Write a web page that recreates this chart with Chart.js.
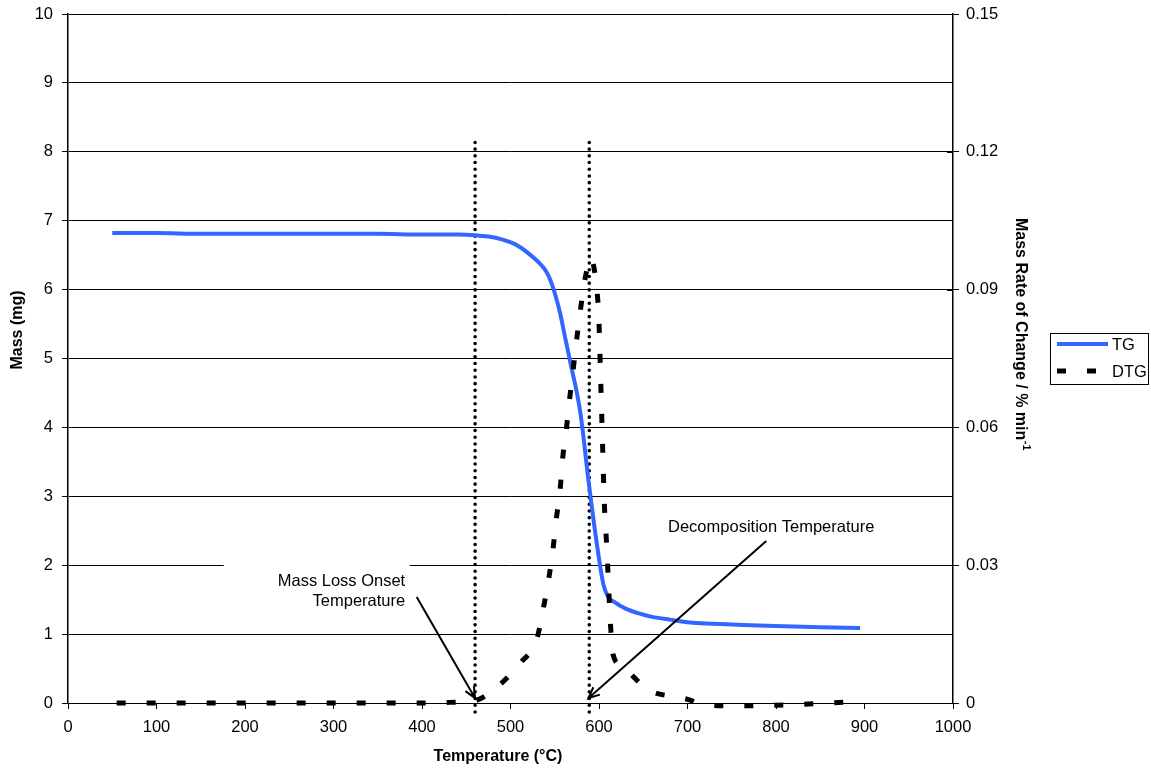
<!DOCTYPE html>
<html>
<head>
<meta charset="utf-8">
<script src="https://cdn.jsdelivr.net/npm/chart.js@4.4.1/dist/chart.umd.min.js"></script>
<style>
  html, body { margin: 0; padding: 0; background: #fff; }
  canvas { display: block; }
</style>
</head>
<body>
<canvas id="tga" width="1151" height="769"></canvas>
<script>
/* ─── DATA ────────────────────────────────────────────────── */
// TG curve: temperature (°C) vs mass (mg)
const tgTemp = [50, 100, 150, 200, 250, 300, 350, 400, 440, 460, 475, 490, 505, 520, 533, 540, 545, 550, 556, 561, 567, 579, 588, 598, 605, 610, 618, 630, 645, 660, 680, 710, 750, 790, 850, 895];
const tgMass = [6.82, 6.82, 6.81, 6.81, 6.81, 6.81, 6.81, 6.80, 6.80, 6.79, 6.77, 6.73, 6.66, 6.53, 6.38, 6.27, 6.14, 5.95, 5.66, 5.35, 4.98, 4.21, 3.24, 2.27, 1.72, 1.55, 1.46, 1.37, 1.30, 1.25, 1.21, 1.16, 1.14, 1.12, 1.10, 1.09];

// DTG curve: temperature (°C) vs mass rate of change (% min-1)
const dtgTemp = [55, 90, 125, 160, 195, 230, 265, 300, 335, 370, 405, 440, 460, 485, 511, 530, 537, 543, 548, 552, 556, 559, 563, 567, 571, 575, 579, 584, 588, 591, 595, 598, 600, 602, 604, 606, 608, 610, 613, 616, 625, 635, 648, 661, 680, 700, 720, 760, 800, 830, 860, 895];
const dtgRate = [0, 0, 0, 0, 0, 0, 0, 0, 0, 0, 0, 0.0002, 0.0005, 0.0035, 0.0087, 0.0141, 0.0205, 0.0268, 0.0335, 0.0404, 0.0464, 0.0534, 0.0594, 0.0665, 0.0729, 0.0795, 0.0855, 0.0921, 0.0955, 0.0969, 0.0940, 0.0893, 0.0828, 0.0696, 0.0566, 0.0435, 0.0366, 0.0290, 0.0170, 0.0105, 0.0082, 0.0065, 0.0040, 0.0024, 0.0015, 0.0008, -0.0004, -0.0006, -0.0005, -0.0003, 0, 0.0004];

// marker lines (°C) and their height (mg)
const markerTemps  = [460, 589];
const markerBottom = -0.13;
const markerTop    = 8.17;

// axis ranges / ticks
const xTicks  = { min: 0, max: 1000, step: 100 };
const yTicks  = { min: 0, max: 10, step: 1 };
const y2Ticks = { min: 0, max: 0.15, step: 0.03 };

// annotations, in data units (°C, mg)
const onsetLabel  = { lines: ['Mass Loss Onset', 'Temperature'], t: 381, m: [1.76, 1.47] };
const onsetBox    = { t0: 176, t1: 386, m0: 2.2, m1: 1.3 };
const onsetArrow  = { from: [394, 1.54], to: [460, 0.07] };
const decompLabel = { text: 'Decomposition Temperature', t: 678, m: 2.55 };
const decompArrow = { from: [789, 2.35], to: [588, 0.07] };

/* ─── HELPERS ─────────────────────────────────────────────── */
const FONT = '"Liberation Sans", Arial, sans-serif';
const pts = (xs, ys) => xs.map((x, i) => ({ x, y: ys[i] }));

function drawArrow(ctx, x1, y1, x2, y2) {
  const a = Math.atan2(y2 - y1, x2 - x1);
  const h = 12, spread = 0.42;
  ctx.beginPath();
  ctx.moveTo(x1, y1);
  ctx.lineTo(x2, y2);
  ctx.moveTo(x2 - h * Math.cos(a - spread), y2 - h * Math.sin(a - spread));
  ctx.lineTo(x2, y2);
  ctx.lineTo(x2 - h * Math.cos(a + spread), y2 - h * Math.sin(a + spread));
  ctx.stroke();
}

// fixed axis sizes, no extra label padding
const fixWidth  = w => s => { s.width = w;  s.paddingTop = 0; s.paddingBottom = 0; };
const fixHeight = h => s => { s.height = h; s.paddingLeft = 0; s.paddingRight = 0; };

/* ─── PLUGINS ─────────────────────────────────────────────── */
const annotations = {
  id: 'annotations',
  beforeDatasetsDraw(chart) {
    const { ctx, scales: { x, y } } = chart;
    // white label box hides the gridline behind the onset label
    ctx.save();
    ctx.fillStyle = '#fff';
    const bx = x.getPixelForValue(onsetBox.t0), by = y.getPixelForValue(onsetBox.m0);
    ctx.fillRect(bx, by, x.getPixelForValue(onsetBox.t1) - bx, y.getPixelForValue(onsetBox.m1) - by);
    ctx.restore();
  },
  afterDatasetsDraw(chart) {
    const { ctx, scales: { x, y } } = chart;
    ctx.save();
    ctx.fillStyle = '#000';
    ctx.font = `16.5px ${FONT}`;
    ctx.textBaseline = 'middle';
    ctx.textAlign = 'right';
    onsetLabel.lines.forEach((s, i) =>
      ctx.fillText(s, x.getPixelForValue(onsetLabel.t), y.getPixelForValue(onsetLabel.m[i])));
    ctx.textAlign = 'left';
    ctx.fillText(decompLabel.text, x.getPixelForValue(decompLabel.t), y.getPixelForValue(decompLabel.m));

    ctx.strokeStyle = '#000';
    ctx.lineWidth = 2;
    [onsetArrow, decompArrow].forEach(a =>
      drawArrow(ctx,
        x.getPixelForValue(a.from[0]), y.getPixelForValue(a.from[1]),
        x.getPixelForValue(a.to[0]),   y.getPixelForValue(a.to[1])));
    ctx.restore();
  },
  afterDraw(chart) {
    const { ctx, chartArea: ca, scales: { y2 } } = chart;
    ctx.save();

    // right axis ticks cross the axis line
    ctx.strokeStyle = '#000';
    ctx.lineWidth = 1;
    y2.ticks.forEach(t => {
      const py = Math.round(y2.getPixelForValue(t.value)) + 0.5;
      ctx.beginPath();
      ctx.moveTo(ca.right - 6, py);
      ctx.lineTo(ca.right, py);
      ctx.stroke();
    });

    // axis titles
    ctx.fillStyle = '#000';
    ctx.font = `bold 16px ${FONT}`;
    ctx.textAlign = 'center';
    ctx.textBaseline = 'middle';
    ctx.fillText('Temperature (°C)', 498, 757);

    ctx.save();
    ctx.translate(18, 330);
    ctx.rotate(-Math.PI / 2);
    ctx.fillText('Mass (mg)', 0, 0);
    ctx.restore();

    ctx.save();
    ctx.translate(1020, 334);
    ctx.rotate(Math.PI / 2);
    const main = 'Mass Rate of Change / % min', sup = '-1';
    ctx.font = `bold 16px ${FONT}`;
    const w1 = ctx.measureText(main).width;
    ctx.font = `bold 11px ${FONT}`;
    const w2 = ctx.measureText(sup).width;
    const x0 = -(w1 + w2) / 2;
    ctx.textAlign = 'left';
    ctx.font = `bold 16px ${FONT}`;
    ctx.fillText(main, x0, 0);
    ctx.font = `bold 11px ${FONT}`;
    ctx.fillText(sup, x0 + w1 + 0.5, -6);
    ctx.restore();

    // legend
    const ds = chart.data.datasets;
    ctx.strokeStyle = '#000';
    ctx.lineWidth = 1;
    ctx.strokeRect(1050.5, 333.5, 98, 51);
    [[ds[1], 344], [ds[0], 371]].forEach(([d, ly]) => {
      ctx.save();
      ctx.strokeStyle = d.borderColor;
      ctx.lineWidth = d.borderWidth;
      ctx.setLineDash(d.borderDash || []);
      ctx.beginPath();
      ctx.moveTo(1057, ly);
      ctx.lineTo(1108, ly);
      ctx.stroke();
      ctx.restore();
      ctx.font = `16.5px ${FONT}`;
      ctx.textAlign = 'left';
      ctx.fillText(d.label, 1112, ly + 1);
    });
    ctx.restore();
  },
};

/* ─── CHART ───────────────────────────────────────────────── */
const markerSets = markerTemps.map(t => ({
  label: 'marker',
  data: [{ x: t, y: markerBottom }, { x: t, y: markerTop }],
  yAxisID: 'y',
  borderColor: '#000',
  borderWidth: 3.6,
  borderDash: [0, 6.7],
  borderCapStyle: 'round',
  pointRadius: 0,
  clip: false,
}));

new Chart(document.getElementById('tga').getContext('2d'), {
  type: 'line',
  data: {
    datasets: [
      {
        label: 'DTG',
        data: pts(dtgTemp, dtgRate),
        yAxisID: 'y2',
        borderColor: '#000',
        borderWidth: 5,
        borderDash: [9, 21],
        borderCapStyle: 'butt',
        pointRadius: 0,
        cubicInterpolationMode: 'monotone',
        clip: false,
      },
      {
        label: 'TG',
        data: pts(tgTemp, tgMass),
        yAxisID: 'y',
        borderColor: '#3366ff',
        borderWidth: 4,
        pointRadius: 0,
        cubicInterpolationMode: 'monotone',
      },
      ...markerSets,
    ],
  },
  options: {
    responsive: false,
    animation: false,
    events: [],
    layout: { padding: { top: 14, left: 0, right: 0, bottom: 0 } },
    plugins: { legend: { display: false }, tooltip: { enabled: false } },
    scales: {
      x: {
        type: 'linear',
        min: xTicks.min, max: xTicks.max,
        afterFit: fixHeight(66),
        grid: { drawOnChartArea: false, color: '#000', tickLength: 6 },
        border: { color: '#000', width: 1 },
        ticks: {
          stepSize: xTicks.step, padding: 9, color: '#000', maxRotation: 0,
          font: { family: FONT, size: 16.5 },
          callback: v => String(v),
        },
      },
      y: {
        position: 'left',
        min: yTicks.min, max: yTicks.max,
        afterFit: fixWidth(68),
        grid: { color: '#000', lineWidth: 1, tickLength: 6 },
        border: { color: '#000', width: 1.5 },
        ticks: {
          stepSize: yTicks.step, padding: 9, color: '#000',
          font: { family: FONT, size: 16.5 },
        },
      },
      y2: {
        position: 'right',
        min: y2Ticks.min, max: y2Ticks.max,
        afterFit: fixWidth(198),
        grid: { drawOnChartArea: false, color: '#000', tickLength: 6 },
        border: { color: '#000', width: 1.5 },
        ticks: {
          stepSize: y2Ticks.step, padding: 7, color: '#000',
          font: { family: FONT, size: 16.5 },
          callback: v => String(+v.toFixed(2)),
        },
      },
    },
  },
  plugins: [annotations],
});
</script>
</body>
</html>
